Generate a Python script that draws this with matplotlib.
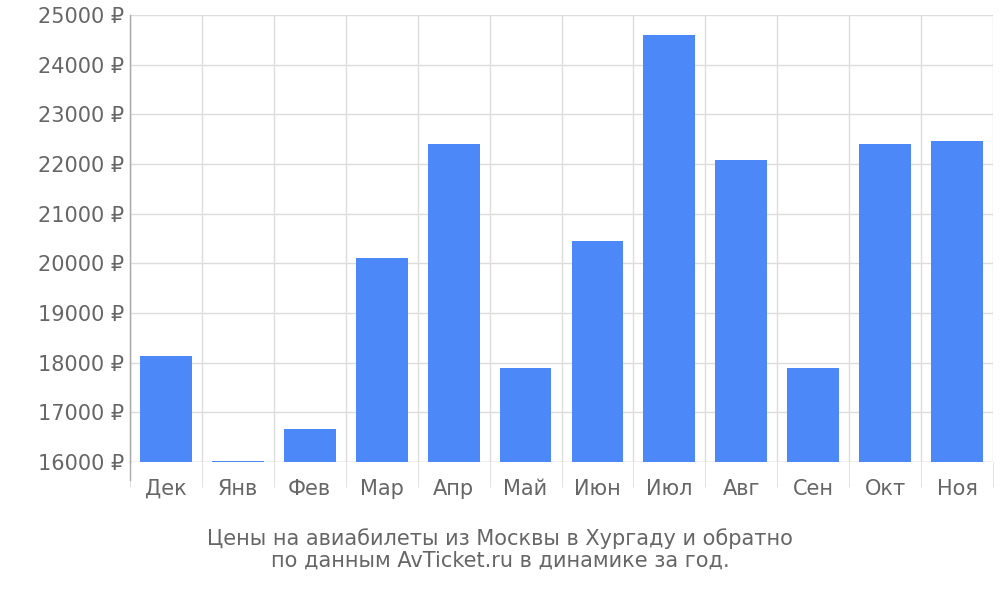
import matplotlib
matplotlib.use("Agg")
import matplotlib.pyplot as plt
import numpy as np

months = ["Дек","Янв","Фев","Мар","Апр","Май","Июн","Июл","Авг","Сен","Окт","Ноя"]
prices = [18130,16020,16660,20110,22400,17890,20450,24600,22080,17890,22400,22460]
yticks = list(range(16000, 25001, 1000))

fig = plt.figure(figsize=(10,6), dpi=100)
ax = fig.add_axes([0.13, 0.23, 0.863, 0.745])
x = np.arange(len(months))
ax.bar(x, prices, width=0.72, color="#4d88f9", zorder=3)
ax.set_xlim(-0.5, 11.5)
ax.set_ylim(16000, 25000)
ax.set_yticks(yticks)
ax.set_yticklabels([f"{v} ₽" for v in yticks])
ax.set_xticks(x)
ax.set_xticklabels(months)
ax.set_xticks(np.arange(-0.5, 12, 1), minor=True)
ax.grid(axis="y", color="#dddddd", lw=1, zorder=0)
ax.grid(axis="x", which="minor", color="#dddddd", lw=1, zorder=0)
ax.tick_params(axis="x", which="major", length=0, pad=12, labelsize=15, labelcolor="#666666")
ax.tick_params(axis="x", which="minor", length=18, color="#dddddd")
ax.tick_params(axis="y", length=0, pad=4, labelsize=15, labelcolor="#666666")
for s in ["top","right","bottom"]:
    ax.spines[s].set_visible(False)
ax.spines["left"].set_color("#aaaaaa")
ax.spines["left"].set_bounds(16000, 25000)
ax.plot([-0.5,-0.5],[0,1],transform=ax.get_xaxis_transform(),clip_on=False,color="#aaaaaa",lw=1)
ax.plot([-0.5,-0.5],[-0.04,0],transform=ax.get_xaxis_transform(),clip_on=False,color="#aaaaaa",lw=1)
ax.axhline(16000, color="#cccccc", lw=1, zorder=2)
fig.text(0.5, 0.085, "Цены на авиабилеты из Москвы в Хургаду и обратно\nпо данным AvTicket.ru в динамике за год.",
         ha="center", va="center", fontsize=15, color="#666666", linespacing=1.1)
fig.savefig("out.png")
